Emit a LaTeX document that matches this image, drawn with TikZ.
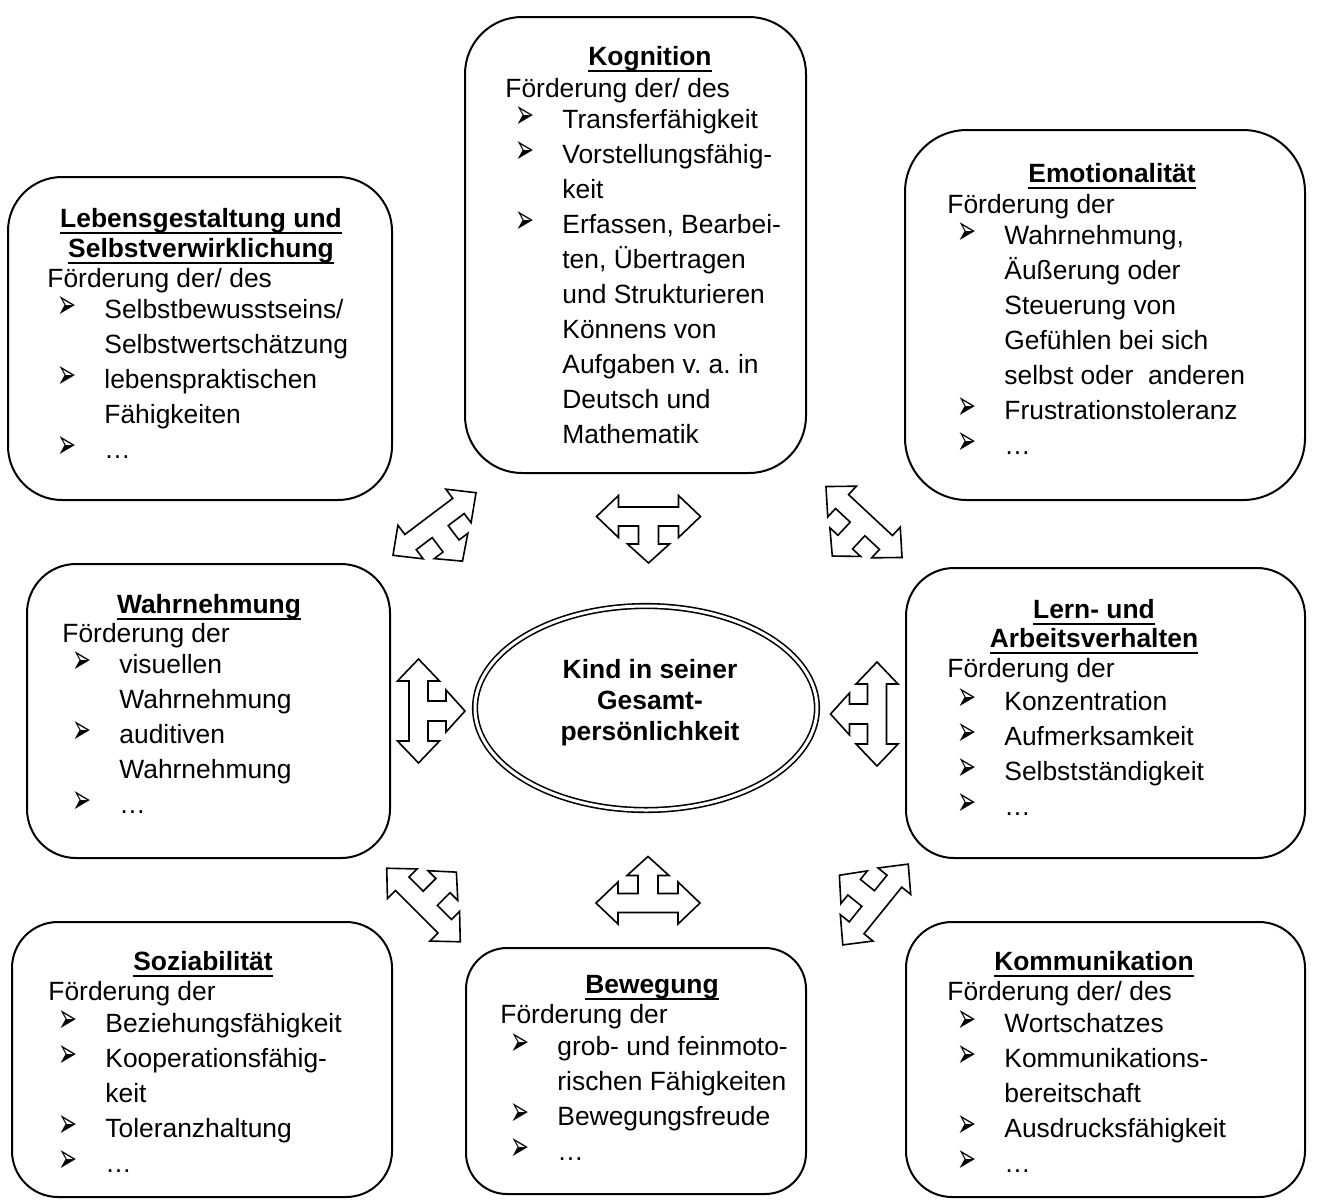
\documentclass[tikz,border=0pt]{standalone}
\usepackage{graphicx}
\usepackage{fontspec}
\setmainfont{Liberation Sans}
\newfontfamily\symfont{DejaVu Sans}
\usetikzlibrary{shapes.geometric}

\newcommand{\bul}{\resizebox{9.5pt}{11pt}{\symfont ➢}}
\newcommand{\pkt}{\hspace*{5pt}\makebox[23.5pt][l]{\bul}}
\newcommand{\wei}{\hspace*{28.5pt}}
\newcommand{\unterl}[1]{\leavevmode\setbox0=\hbox{#1}\rlap{\rule[-3.5pt]{\wd0}{1pt}}\box0}
\newcommand{\dreipfeil}[2]{\draw[pfeil, shift={(#1)}, rotate=#2] (-52,0) -- (-30,-21) -- (-30,-9.5) -- (30,-9.5) -- (30,-21) -- (52,0) -- (30,21) -- (30,9.5) -- (10,9.5) -- (10,27.5) -- (21,27.5) -- (0,46.5) -- (-21,27.5) -- (-10,27.5) -- (-10,9.5) -- (-30,9.5) -- (-30,21) -- cycle;}

\begin{document}
\frenchspacing
\begin{tikzpicture}[x=0.5pt,y=-0.5pt]
	\tikzstyle{box} = [draw, line width=1pt, inner sep=0pt]
	\tikzstyle{pfeil} = [draw, fill=white, line width=0.8pt, line join=miter]
	\tikzstyle{kopf} = [inner sep=0pt, anchor=base, font=\bfseries\fontsize{13.2pt}{17.5pt}\selectfont]
	\tikzstyle{inhalt} = [inner sep=0pt, anchor=base west, font=\fontsize{13.2pt}{17.5pt}\selectfont]
	\useasboundingbox (0,0) rectangle (1322,1200);
	% Kästen
	\node[box, rounded corners=28.5pt, minimum width=170.5pt, minimum height=228pt] (kog) at (635.5,245) {};
	\node[box, rounded corners=31pt, minimum width=200pt, minimum height=185pt] (emo) at (1105,315) {};
	\node[box, rounded corners=27pt, minimum width=192pt, minimum height=161.5pt] (leb) at (200,338.5) {};
	\node[box, rounded corners=24.5pt, minimum width=181.5pt, minimum height=147pt] (wahr) at (208.5,711) {};
	\node[box, rounded corners=24pt, minimum width=199.5pt, minimum height=145pt] (lern) at (1105.5,713) {};
	\node[box, rounded corners=23pt, minimum width=190pt, minimum height=137.5pt] (soz) at (202,1059.5) {};
	\node[box, rounded corners=20.5pt, minimum width=170pt, minimum height=123pt] (bew) at (636,1071) {};
	\node[box, rounded corners=23pt, minimum width=199.5pt, minimum height=137.5pt] (kom) at (1105.5,1059.5) {};
	\node[draw, double, ellipse, line width=0.8pt, double distance=1.5pt, inner sep=0pt, minimum width=171pt, minimum height=102pt] (kind) at (646,708) {};
	\node[kopf] (kind-t) at (650,678) {\parbox[t]{160pt}{\centering Kind in seiner\\[-2pt] Gesamt-\\[-2pt] persönlichkeit}};
	% Kognition
	\node[kopf] (kog-h) at (650,65) {\unterl{Kognition}};
	\node[inhalt] (kog-t) at (505,97) {\parbox[t]{160pt}{\raggedright Förderung der/ des\\[-2pt]
		\pkt Transferfähigkeit\\
		\pkt Vorstellungsfähig-\\
		\wei keit\\
		\pkt Erfassen, Bearbei-\\
		\wei ten, Übertragen\\
		\wei und Strukturieren\\
		\wei Könnens von\\
		\wei Aufgaben v. a. in\\
		\wei Deutsch und\\
		\wei Mathematik}};
	% Emotionalitaet
	\node[kopf] (emo-h) at (1112,182) {\unterl{Emotionalität}};
	\node[inhalt] (emo-t) at (947,213) {\parbox[t]{190pt}{\raggedright Förderung der\\[-2pt]
		\pkt Wahrnehmung,\\
		\wei Äußerung oder\\
		\wei Steuerung von\\
		\wei Gefühlen bei sich\\
		\wei selbst oder\ \ anderen\\
		\pkt Frustrationstoleranz\\
		\pkt …}};
	% Lebensgestaltung
	\node[kopf] (leb-h) at (201,227) {\parbox[t]{190pt}{\centering \unterl{Lebensgestaltung und}\\[-2.5pt] \unterl{Selbstverwirklichung}}};
	\node[inhalt] (leb-t) at (47,287) {\parbox[t]{190pt}{\raggedright Förderung der/ des\\[-2pt]
		\pkt Selbstbewusstseins/\\
		\wei Selbstwertschätzung\\
		\pkt lebenspraktischen\\
		\wei Fähigkeiten\\
		\pkt …}};
	% Wahrnehmung
	\node[kopf] (wahr-h) at (209,613) {\unterl{Wahrnehmung}};
	\node[inhalt] (wahr-t) at (62,642) {\parbox[t]{170pt}{\raggedright Förderung der\\[-2pt]
		\pkt visuellen\\
		\wei Wahrnehmung\\
		\pkt auditiven\\
		\wei Wahrnehmung\\
		\pkt …}};
	% Lern- und Arbeitsverhalten
	\node[kopf] (lern-h) at (1094,618) {\parbox[t]{190pt}{\centering \unterl{Lern- und}\\[-3pt] \unterl{Arbeitsverhalten}}};
	\node[inhalt] (lern-t) at (947,677) {\parbox[t]{190pt}{\raggedright Förderung der\\[-1pt]
		\pkt Konzentration\\
		\pkt Aufmerksamkeit\\
		\pkt Selbstständigkeit\\
		\pkt …}};
	% Soziabilitaet
	\node[kopf] (soz-h) at (203,970) {\unterl{Soziabilität}};
	\node[inhalt] (soz-t) at (48,1000) {\parbox[t]{190pt}{\raggedright Förderung der\\[-1.5pt]
		\pkt Beziehungsfähigkeit\\
		\pkt Kooperationsfähig-\\
		\wei keit\\
		\pkt Toleranzhaltung\\
		\pkt …}};
	% Bewegung
	\node[kopf] (bew-h) at (652,993) {\unterl{Bewegung}};
	\node[inhalt] (bew-t) at (500,1023) {\parbox[t]{160pt}{\raggedright Förderung der\\[-1.5pt]
		\pkt grob- und feinmoto-\\
		\wei rischen Fähigkeiten\\
		\pkt Bewegungsfreude\\
		\pkt …}};
	% Kommunikation
	\node[kopf] (kom-h) at (1094,970) {\unterl{Kommunikation}};
	\node[inhalt] (kom-t) at (947,1000) {\parbox[t]{190pt}{\raggedright Förderung der/ des\\[-1.5pt]
		\pkt Wortschatzes\\
		\pkt Kommunikations-\\
		\wei bereitschaft\\
		\pkt Ausdrucksfähigkeit\\
		\pkt …}};
	% Pfeile
	\coordinate (p-o) at (648.5,516.5);
	\coordinate (p-u) at (648,903);
	\coordinate (p-l) at (418.5,711);
	\coordinate (p-r) at (877,714);
	\coordinate (p-ol) at (434.5,524);
	\coordinate (p-or) at (864,522);
	\coordinate (p-ul) at (423.5,905);
	\coordinate (p-ur) at (875.5,904.5);
	\dreipfeil{p-o}{0}
	\dreipfeil{p-u}{180}
	\dreipfeil{p-l}{90}
	\dreipfeil{p-r}{-90}
	\dreipfeil{p-ol}{37}
	\dreipfeil{p-or}{-43}
	\dreipfeil{p-ul}{135}
	\dreipfeil{p-ur}{-129}
\end{tikzpicture}
\end{document}
